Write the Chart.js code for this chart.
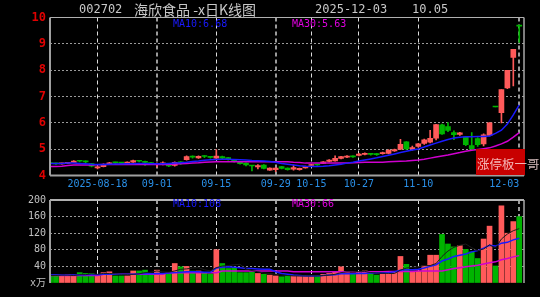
<!DOCTYPE html>
<html><head><meta charset="utf-8">
<script src="https://cdn.jsdelivr.net/npm/chart.js@4.4.1/dist/chart.umd.min.js"></script>
<style>
html,body{margin:0;padding:0;background:#000;width:540px;height:297px;overflow:hidden;}
body{position:relative;}
canvas{position:absolute;left:0;}
#cPrice{top:0;width:540px;height:190px;}
#cVol{top:190px;width:540px;height:107px;}
.t{position:absolute;white-space:nowrap;font-family:'DejaVu Sans Mono',monospace;}
</style></head><body>
<canvas id="cPrice" width="540" height="190"></canvas>
<canvas id="cVol" width="540" height="107"></canvas>
<div class="t" style="left:79px;top:2px;font-size:12px;line-height:15px;color:#c8c8c8">002702</div>
<div class="t" style="left:134px;top:1px;font-size:14px;line-height:17px;color:#c8c8c8;font-family:'Noto Sans CJK SC',sans-serif">海欣食品 -x日K线图</div>
<div class="t" style="left:315px;top:2px;font-size:12px;line-height:15px;color:#c8c8c8">2025-12-03</div>
<div class="t" style="left:412px;top:2px;font-size:12px;line-height:15px;color:#c8c8c8">10.05</div>
<div class="t" style="left:173px;top:18px;font-size:10px;line-height:12px;color:#1a1aff">MA10:6.68</div>
<div class="t" style="left:292px;top:18px;font-size:10px;line-height:12px;color:#e000e0">MA30:5.63</div>
<div class="t" style="left:173px;top:198px;font-size:10px;line-height:12px;color:#1a1aff">MA10:108</div>
<div class="t" style="left:292px;top:198px;font-size:10px;line-height:12px;color:#e000e0">MA30:66</div>
<div style="position:absolute;left:476px;top:149px;width:49px;height:26px;background:#c80000"></div>
<div class="t" style="left:477px;top:157px;font-size:12.5px;line-height:14px;color:rgba(255,225,225,0.8);font-family:'Noto Sans CJK SC',sans-serif">涨停板一哥</div>
<script>
// ---- data ----
const dates = ['08-06','08-07','08-08','08-11','08-12','08-13','08-14','08-15','08-18','08-19','08-20','08-21','08-22','08-25','08-26','08-27','08-28','08-29',
'09-01','09-02','09-03','09-04','09-05','09-08','09-09','09-10','09-11','09-12','09-15','09-16','09-17','09-18','09-19','09-22','09-23','09-24','09-25','09-26','09-29','09-30',
'10-09','10-10','10-13','10-14','10-15','10-16','10-17','10-20','10-21','10-22','10-23','10-24','10-27','10-28','10-29','10-30','10-31',
'11-03','11-04','11-05','11-06','11-07','11-10','11-11','11-12','11-13','11-14','11-17','11-18','11-19','11-20','11-21','11-24','11-25','11-26','11-27','11-28',
'12-01','12-02','12-03'];
const openP  = [4.47,4.46,4.44,4.46,4.50,4.56,4.54,4.45,4.29,4.34,4.43,4.50,4.49,4.47,4.51,4.57,4.54,4.49,4.42,4.44,4.45,4.38,4.51,4.60,4.72,4.67,4.74,4.71,4.66,4.72,4.68,4.60,4.53,4.47,4.37,4.33,4.40,4.20,4.22,4.34,4.28,4.24,4.22,4.29,4.38,4.42,4.46,4.53,4.55,4.65,4.70,4.74,4.76,4.80,4.83,4.82,4.83,4.84,4.93,5.00,5.28,5.02,5.10,5.22,5.27,5.42,5.92,5.86,5.63,5.56,5.47,5.14,5.40,5.20,5.52,6.60,6.39,7.33,8.48,9.67];
const closeP = [4.45,4.44,4.46,4.49,4.55,4.54,4.52,4.35,4.33,4.42,4.48,4.48,4.47,4.50,4.57,4.54,4.50,4.45,4.45,4.47,4.36,4.50,4.48,4.72,4.70,4.73,4.72,4.69,4.74,4.66,4.60,4.53,4.45,4.40,4.36,4.38,4.27,4.28,4.28,4.27,4.22,4.30,4.27,4.35,4.40,4.40,4.52,4.59,4.65,4.72,4.74,4.71,4.81,4.84,4.80,4.79,4.87,4.96,4.98,5.18,5.01,5.06,5.20,5.35,5.41,5.93,5.58,5.71,5.55,5.62,5.17,5.00,5.17,5.54,6.00,6.60,7.26,7.99,8.79,9.67];
const lowP   = [4.43,4.42,4.43,4.45,4.49,4.52,4.49,4.33,4.25,4.33,4.42,4.46,4.45,4.46,4.50,4.52,4.38,4.43,4.33,4.40,4.34,4.35,4.42,4.58,4.66,4.65,4.68,4.66,4.64,4.64,4.58,4.51,4.43,4.36,4.17,4.25,4.25,4.19,4.15,4.25,4.20,4.20,4.20,4.28,4.36,4.38,4.45,4.52,4.54,4.63,4.68,4.69,4.74,4.78,4.77,4.76,4.81,4.82,4.91,4.98,4.99,4.96,5.08,5.18,5.24,5.35,5.56,5.66,5.36,5.52,5.13,4.98,5.10,5.12,5.50,6.60,6.00,7.30,7.40,9.05];
const highP  = [4.48,4.47,4.47,4.50,4.57,4.57,4.56,4.46,4.35,4.44,4.50,4.51,4.50,4.52,4.59,4.58,4.55,4.50,4.48,4.52,4.46,4.52,4.53,4.75,4.75,4.75,4.76,4.73,4.98,4.74,4.69,4.61,4.54,4.48,4.38,4.41,4.41,4.29,4.30,4.35,4.29,4.40,4.28,4.36,4.42,4.43,4.53,4.60,4.75,4.73,4.76,4.75,4.84,4.86,4.84,4.84,4.89,4.98,5.00,5.37,5.29,5.12,5.22,5.38,5.72,5.94,5.95,6.01,5.70,5.64,5.49,5.63,5.44,5.58,6.01,6.60,7.26,7.99,8.79,9.67];
const ma10P = [4.46,4.46,4.46,4.47,4.47,4.46,4.45,4.43,4.42,4.42,4.43,4.44,4.44,4.45,4.45,4.46,4.46,4.45,4.45,4.45,4.46,4.47,4.48,4.50,4.53,4.55,4.58,4.60,4.61,4.62,4.62,4.61,4.60,4.59,4.57,4.56,4.55,4.53,4.50,4.46,4.43,4.40,4.37,4.35,4.34,4.34,4.35,4.37,4.40,4.43,4.47,4.50,4.55,4.59,4.63,4.67,4.72,4.77,4.82,4.87,4.92,4.97,5.01,5.08,5.16,5.23,5.30,5.37,5.42,5.45,5.47,5.47,5.48,5.48,5.50,5.60,5.72,5.95,6.30,6.68];
const ma30P = [4.34,4.34,4.35,4.38,4.40,4.40,4.40,4.40,4.41,4.42,4.42,4.42,4.42,4.42,4.42,4.42,4.42,4.42,4.42,4.42,4.42,4.44,4.45,4.46,4.47,4.48,4.50,4.51,4.52,4.52,4.52,4.52,4.52,4.52,4.52,4.52,4.52,4.52,4.52,4.52,4.52,4.50,4.49,4.47,4.47,4.47,4.47,4.47,4.47,4.47,4.47,4.48,4.49,4.50,4.50,4.50,4.50,4.52,4.53,4.54,4.55,4.57,4.59,4.62,4.66,4.70,4.74,4.78,4.83,4.87,4.92,4.96,4.99,5.02,5.05,5.12,5.20,5.30,5.46,5.63];
const volume = [18,19,17,20,17,25,23,23,19,25,27,17,17,17,29,29,31,23,31,23,23,47,39,40,29,29,25,22,80,47,35,37,25,25,27,23,21,19,17,15,17,17,17,17,17,17,21,23,27,39,25,23,25,29,25,19,21,23,27,64,45,29,29,41,67,67,117,94,87,90,81,75,59,106,137,41,186,120,148,160];
const vma5  = [18,18,19,19,18,20,20,22,21,23,23,22,21,21,21,22,25,26,29,27,26,29,33,34,36,37,32,29,37,41,42,44,45,34,30,27,24,23,21,19,18,17,17,17,17,17,18,19,21,25,27,27,28,28,25,24,24,23,23,31,36,38,39,42,42,47,64,77,86,91,94,85,78,82,92,84,106,118,126,131];
const vma10 = [19,19,19,19,19,19,20,20,20,21,21,21,21,21,21,22,22,22,23,23,24,25,26,27,27,27,26,26,36,38,39,38,37,35,35,34,33,33,27,23,21,19,18,17,17,17,18,19,20,22,22,22,23,23,24,24,25,25,27,31,32,32,33,36,40,44,53,58,64,67,70,75,78,84,91,89,96,98,104,108];
const vma30 = [18,18,18,18,18,18,18,18,18,21,21,21,21,21,21,21,21,21,21,21,25,25,25,25,25,25,25,25,25,29,29,29,29,29,29,29,29,29,29,29,29,27,27,27,27,27,27,27,27,27,27,27,27,27,27,27,27,28,28,28,28,28,29,29,29,29,29,32,35,37,39,41,43,46,49,51,56,59,63,66];
const tickIdx  = [8,18,28,38,44,52,62,79];
const tickText = ['2025-08-18','09-01','09-15','09-29','10-15','10-27','11-10','12-03'];
const grayIdx  = [18,38,79];
const priceTicks = [4,5,6,7,8,9,10];
const volTicks = [0,40,80,120,160,200];
const volUnit = 'x万';

// ---- styles ----
const RED = '#ff5a5a', GREEN = '#00b400';
const candleColor = openP.map((o,i)=> closeP[i] > o ? RED : GREEN);
const MONO = "'DejaVu Sans Mono', 'Noto Sans CJK SC', monospace";
const CLEAR = 'rgba(0,0,0,0)';

const framePlugin = {
  id: 'frame',
  afterDraw(chart, args, opts) {
    const {ctx, chartArea: a} = chart;
    ctx.save();
    (opts.lines || []).forEach(l => {
      ctx.strokeStyle = l.color; ctx.lineWidth = l.width;
      ctx.beginPath();
      if (l.side === 'left') { ctx.moveTo(a.left, a.top); ctx.lineTo(a.left, a.bottom); }
      if (l.side === 'right') { ctx.moveTo(a.right, a.top); ctx.lineTo(a.right, a.bottom); }
      if (l.side === 'top') { ctx.moveTo(a.left, a.top); ctx.lineTo(a.right, a.top); }
      if (l.side === 'bottom') { ctx.moveTo(a.left, a.bottom); ctx.lineTo(a.right, a.bottom); }
      ctx.stroke();
    });
    ctx.restore();
  }
};

function xScale(showLabels) {
  return {
    type: 'linear', min: 0, max: 79.8, bounds: 'data', offset: false,
    afterBuildTicks(s) { s.ticks = [0].concat(tickIdx).map(v => ({value: v})); },
    afterFit(s) { s.height = showLabels ? 14.5 : 0; },
    ticks: {
      display: showLabels, autoSkip: false, maxRotation: 0, minRotation: 0, align: 'inner', padding: 3,
      color: '#2a90e8', font: {family: MONO, size: 10},
      callback: (v) => { const k = tickIdx.indexOf(v); return k < 0 ? '' : tickText[k]; }
    },
    grid: {
      offset: false, drawTicks: false,
      color: (c) => { const v = c.tick ? c.tick.value : -1; if (v === 0) return CLEAR; return grayIdx.includes(v) ? '#9a9a9a' : '#dcdcdc'; },
      lineWidth: (c) => { const v = c.tick ? c.tick.value : -1; return grayIdx.includes(v) ? 2 : 1; }
    },
    border: {display: false, dash: [4, 3]}
  };
}

const pts = (arr) => arr.map((v, i) => ({x: i, y: v}));

new Chart(document.getElementById('cPrice'), {
  type: 'bar',
  data: {
    datasets: [
      {type: 'line', data: pts(ma10P), borderColor: '#1a1aff', borderWidth: 1.5, pointRadius: 0, tension: 0, order: 0},
      {type: 'line', data: pts(ma30P), borderColor: '#d000d0', borderWidth: 1.5, pointRadius: 0, tension: 0, order: 0},
      {data: openP.map((o, i) => ({x: i, y: [o, closeP[i]]})), backgroundColor: candleColor, barThickness: 5, minBarLength: 1, grouped: false, order: 1},
      {data: lowP.map((l, i) => ({x: i, y: [l, highP[i]]})), backgroundColor: candleColor, barThickness: 1, grouped: false, order: 2}
    ]
  },
  options: {
    responsive: false, animation: false, devicePixelRatio: 1,
    layout: {padding: {top: 17.5, right: 16, left: 0, bottom: 0}},
    plugins: {legend: {display: false}, tooltip: {enabled: false},
      frame: {lines: [
        {side: 'top', color: '#b0b0b0', width: 1},
        {side: 'right', color: '#a8a8a8', width: 1.5},
        {side: 'left', color: '#a0a0a0', width: 2},
        {side: 'bottom', color: '#a0a0a0', width: 2}
      ]}},
    scales: {
      x: xScale(true),
      y: {
        min: 4, max: 10,
        afterFit(s) { s.width = 50; },
        afterBuildTicks(s) { s.ticks = priceTicks.map(v => ({value: v})); },
        ticks: {color: '#e00000', font: {family: MONO, size: 12, weight: 'bold'}, padding: 4},
        grid: {drawTicks: false, color: (c) => (c.tick && (c.tick.value === 4 || c.tick.value === 10)) ? CLEAR : '#9a9a9a'},
        border: {display: false, dash: [2, 2]}
      }
    }
  },
  plugins: [framePlugin]
});

new Chart(document.getElementById('cVol'), {
  type: 'bar',
  data: {
    datasets: [
      {type: 'line', data: pts(vma5), borderColor: '#1c1c1c', borderWidth: 1, pointRadius: 0, tension: 0, order: 0},
      {type: 'line', data: pts(vma10), borderColor: '#1a1aff', borderWidth: 1.5, pointRadius: 0, tension: 0, order: 0},
      {type: 'line', data: pts(vma30), borderColor: '#d000d0', borderWidth: 1.5, pointRadius: 0, tension: 0, order: 0},
      {data: pts(volume), backgroundColor: candleColor, barThickness: 5, grouped: false, order: 1}
    ]
  },
  options: {
    responsive: false, animation: false, devicePixelRatio: 1,
    layout: {padding: {top: 9, right: 16, left: 0, bottom: 14}},
    plugins: {legend: {display: false}, tooltip: {enabled: false},
      frame: {lines: [
        {side: 'top', color: '#b0b0b0', width: 2},
        {side: 'right', color: '#a8a8a8', width: 1.5},
        {side: 'left', color: '#a0a0a0', width: 2}
      ]}},
    scales: {
      x: xScale(false),
      y: {
        min: 0, max: 200,
        afterFit(s) { s.width = 50; },
        afterBuildTicks(s) { s.ticks = volTicks.map(v => ({value: v})); },
        ticks: {color: '#c0c0c0', font: {family: MONO, size: 10}, padding: 4,
          callback: (v) => v === 0 ? volUnit : String(v)},
        grid: {drawTicks: false, color: (c) => (c.tick && (c.tick.value === 0 || c.tick.value === 200)) ? CLEAR : '#9a9a9a'},
        border: {display: false, dash: [2, 2]}
      }
    }
  },
  plugins: [framePlugin]
});
</script>
</body></html>
